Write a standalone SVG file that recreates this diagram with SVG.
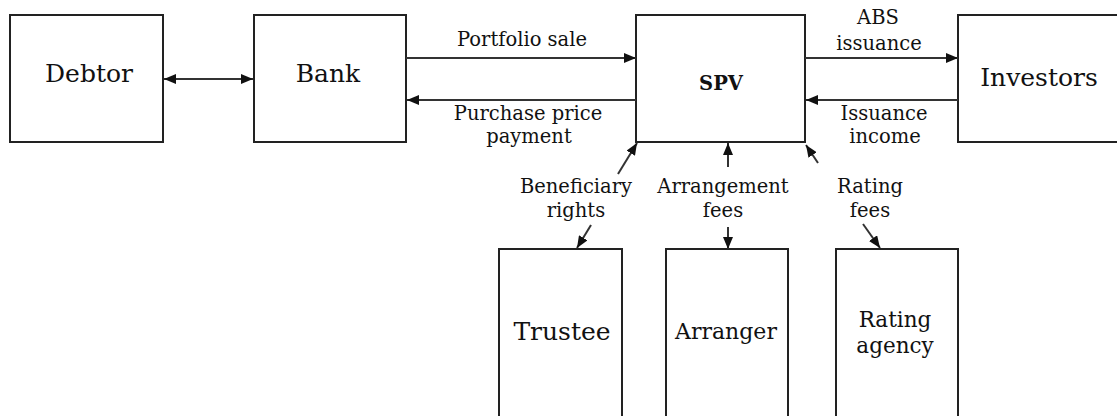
<svg xmlns="http://www.w3.org/2000/svg" width="1117" height="416" viewBox="0 0 1117 416">
<style>
.box{fill:#fff;stroke:#222;stroke-width:2}
.t{font-family:"DejaVu Serif","Liberation Serif",serif;fill:#111;text-anchor:middle}
.n{font-size:25px}
.l{font-size:19.5px}
.c{stroke:#333;stroke-width:2;fill:none}
</style>
<defs>
<marker id="ah" viewBox="0 0 12 10" refX="12" refY="5" markerWidth="12" markerHeight="10" markerUnits="userSpaceOnUse" orient="auto-start-reverse">
<path d="M0,0 L12,5 L0,10 Z" fill="#111"/>
</marker>
</defs>
<rect width="1117" height="416" fill="#fff"/>
<g id="debtor"><rect class="box" x="10" y="15" width="153" height="127"/><text class="t n" x="89" y="82">Debtor</text></g>
<g id="bank"><rect class="box" x="254" y="15" width="152" height="127"/><text class="t n" x="328" y="82">Bank</text></g>
<g id="spv"><rect class="box" x="636" y="15" width="169" height="127"/><text class="t" x="721" y="90" font-size="19.5" font-weight="bold">SPV</text></g>
<g id="investors"><rect class="box" x="958" y="15" width="170" height="127"/><text class="t" x="1039" y="86" font-size="25">Investors</text></g>
<g id="trustee"><rect class="box" x="499" y="249" width="123" height="180"/><text class="t" x="562" y="340" font-size="25">Trustee</text></g>
<g id="arranger"><rect class="box" x="666" y="249" width="122" height="180"/><text class="t" x="726" y="339" font-size="22">Arranger</text></g>
<g id="rating"><rect class="box" x="836" y="249" width="122" height="180"/><text class="t" x="895" y="327" font-size="21.5">Rating</text><text class="t" x="895" y="353" font-size="21.5">agency</text></g>
<g id="connectors">
<line class="c" x1="164" y1="79" x2="253" y2="79" marker-start="url(#ah)" marker-end="url(#ah)"/>
<line class="c" x1="406" y1="58" x2="636" y2="58" marker-end="url(#ah)"/>
<line class="c" x1="636" y1="100" x2="407" y2="100" marker-end="url(#ah)"/>
<line class="c" x1="805" y1="58" x2="958" y2="58" marker-end="url(#ah)"/>
<line class="c" x1="958" y1="100" x2="806" y2="100" marker-end="url(#ah)"/>
<line class="c" x1="618" y1="174" x2="637" y2="143" marker-end="url(#ah)"/>
<line class="c" x1="591" y1="225" x2="577" y2="248" marker-end="url(#ah)"/>
<line class="c" x1="728" y1="167" x2="728" y2="143" marker-end="url(#ah)"/>
<line class="c" x1="728" y1="227" x2="728" y2="249" marker-end="url(#ah)"/>
<line class="c" x1="818" y1="163" x2="806" y2="145" marker-end="url(#ah)"/>
<line class="c" x1="863" y1="224" x2="880" y2="248" marker-end="url(#ah)"/>
</g>
<g id="labels">
<text class="t l" x="522" y="46">Portfolio sale</text>
<text class="t l" x="528" y="120">Purchase price</text>
<text class="t l" x="529" y="143">payment</text>
<text class="t l" x="878" y="24">ABS</text>
<text class="t l" x="879" y="50">issuance</text>
<text class="t l" x="884" y="120">Issuance</text>
<text class="t l" x="885" y="143">income</text>
<text class="t l" x="576" y="193">Beneficiary</text>
<text class="t l" x="576" y="217">rights</text>
<text class="t l" x="723" y="193">Arrangement</text>
<text class="t l" x="723" y="217">fees</text>
<text class="t l" x="870" y="193">Rating</text>
<text class="t l" x="870" y="217">fees</text>
</g>
</svg>
